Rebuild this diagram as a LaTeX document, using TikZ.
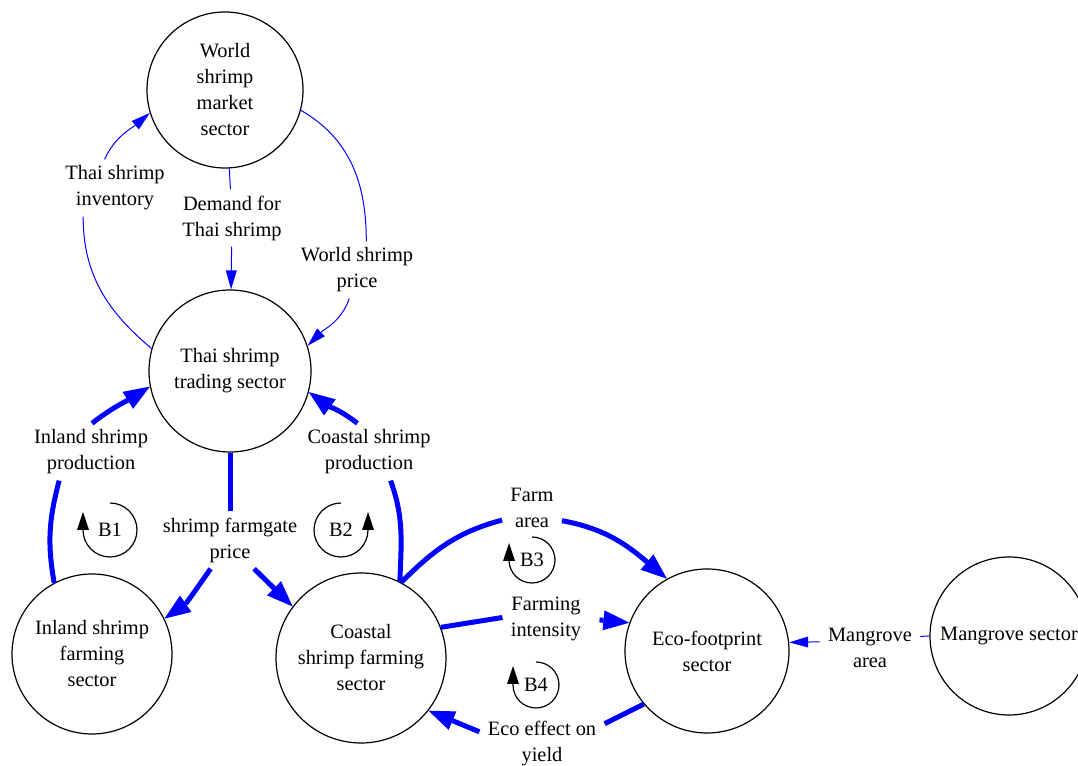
\documentclass[tikz,border=0pt]{standalone}
\usepackage{fontspec}
\setmainfont{Liberation Serif}
\usetikzlibrary{arrows.meta}

\begin{document}
\begin{tikzpicture}[x=0.5pt, y=0.5pt, font=\fontsize{10.2pt}{13pt}\selectfont,
    sector/.style = {draw, circle, line width=0.6pt, align=center, inner sep=0pt},
    lbl/.style = {align=center, inner xsep=4pt, inner ysep=3pt},
    flow/.style = {blue, line width=0.5pt},
    flowarr/.style = {flow, -{Triangle[length=9.5pt, width=5.5pt, line width=0pt]}},
    bigflow/.style = {blue, line width=2.5pt},
    bigarr/.style = {bigflow, -{Triangle[length=13pt, width=10pt, line width=0pt]}},
    loopmark/.style = {black, line width=0.6pt, -{Triangle[length=9pt, width=6pt, line width=0pt]}}]
        \useasboundingbox (0,0) rectangle (1078,766);
        % sectors
        \node[sector, minimum size=78pt] (world) at (225,676) {World\\shrimp\\market\\sector};
        \node[sector, minimum size=81pt] (trading) at (230,395) {Thai shrimp\\trading sector};
        \node[sector, minimum size=80pt] (inland) at (92,112) {Inland shrimp\\farming\\sector};
        \node[sector, minimum size=85pt] (coastal) at (361,108) {Coastal\\shrimp farming\\sector};
        \node[sector, minimum size=82pt] (eco) at (707,115) {Eco-footprint\\sector};
        \node[sector, minimum size=79pt] (mangrove) at (1009,130) {Mangrove sector};
        % flow labels
        \node[lbl] (inv) at (115,578) {Thai shrimp\\inventory};
        \node[lbl] (demand) at (232,548) {Demand for\\Thai shrimp};
        \node[lbl] (wprice) at (357,496) {World shrimp\\price};
        \node[lbl] (inprod) at (91,314) {Inland shrimp\\production};
        \node[lbl] (coprod) at (369,314) {Coastal shrimp\\production};
        \node[lbl] (farmgate) at (230,226) {shrimp farmgate\\price};
        \node[lbl] (farmarea) at (532,258) {Farm\\area};
        \node[lbl] (intensity) at (546,147) {Farming\\intensity};
        \node[lbl] (ecoeff) at (542,22) {Eco effect on\\yield};
        \node[lbl] (mgarea) at (870,118) {Mangrove\\area};
        % loops
        \node (b1) at (110,236) {B1};
        \node (b2) at (341,236) {B2};
        \node (b3) at (532,206) {B3};
        \node (b4) at (536,81) {B4};
        \draw[loopmark] (b1.center) ++(0,27) arc[start angle=90, end angle=-180, radius=13.5pt] -- ++(0,18);
        \draw[loopmark] (b2.center) ++(0,27) arc[start angle=90, end angle=360, radius=13.5pt] -- ++(0,18);
        \draw[loopmark] (b3.center) ++(0,23) arc[start angle=90, end angle=-180, radius=11.5pt] -- ++(0,17);
        \draw[loopmark] (b4.center) ++(0,23) arc[start angle=90, end angle=-180, radius=11.5pt] -- ++(0,19);
        % thin flows
        \draw[flow] (trading.164) to[out=140, in=-90] (inv.222);
        \draw[flowarr] (inv.110) to[out=65, in=220] (world.197);
        \draw[flow] (world) -- (demand);
        \draw[flowarr] (demand) -- (trading);
        \draw[flow] (world.-15) to[out=-30, in=90] (wprice.72);
        \draw[flowarr] (wprice.255) to[out=-110, in=45] (trading.18);
        \draw[flow] (mangrove.180) -- (mgarea.13);
        \draw[flowarr] (mgarea.173) -- (eco.6);
        % thick flows
        \draw[bigflow] (inland.118) to[out=100, in=-105] (inprod.222);
        \draw[bigarr] (inprod.88) to[out=38, in=212] (trading.191);
        \draw[bigflow] (coastal.63) to[out=88, in=-70] (coprod.-53);
        \draw[bigarr] (coprod.112) to[out=142, in=-36] (trading.-15);
        \draw[bigflow] (trading.south) -- (farmgate.north);
        \draw[bigarr] (farmgate.236) to[out=235, in=35] (inland.26);
        \draw[bigarr] (farmgate.-50) -- (coastal.143);
        \draw[bigflow] (coastal.62) to[out=45, in=195] (farmarea.202);
        \draw[bigarr] (farmarea.-23) to[out=-10, in=140] (eco.119);
        \draw[bigflow] (coastal.21) -- (intensity.178);
        \draw[bigarr, shorten <=5pt] (intensity.east) -- (eco.160);
        \draw[bigflow] (eco.220) -- (ecoeff.18);
        \draw[bigarr] (ecoeff.169) -- (coastal.-38);
\end{tikzpicture}
\end{document}
